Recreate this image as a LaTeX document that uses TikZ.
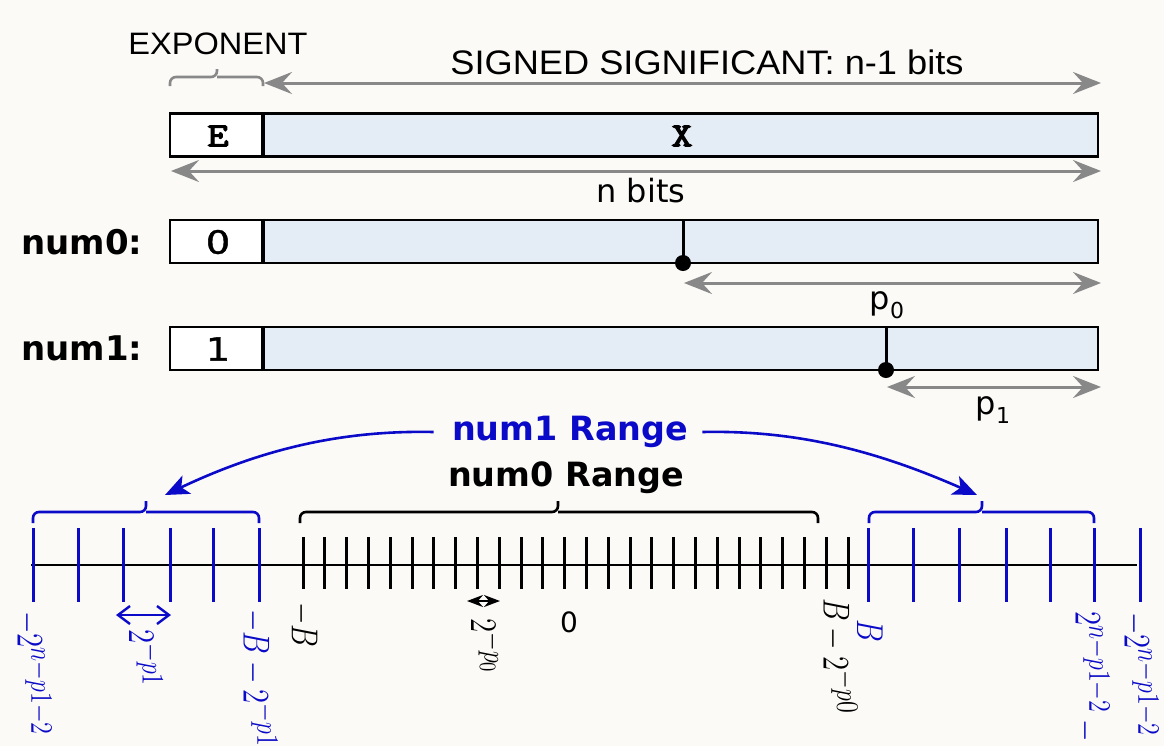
\documentclass[tikz,border=0pt]{standalone}
\usepackage[no-math]{fontspec}
\usepackage{graphicx}
\usetikzlibrary{arrows.meta}
\newfontfamily\djv{DejaVu Sans}
\newfontfamily\djvfb{DejaVu Sans}[FakeBold=1.2]
\newfontfamily\lib{Liberation Sans}
\newfontfamily\ttb{lmmono10-regular.otf}[FakeBold=3]
\definecolor{bg}{RGB}{251,250,247}
\definecolor{cellblue}{RGB}{228,236,245}
\definecolor{arrgray}{RGB}{136,136,136}
\definecolor{rblue}{RGB}{10,10,200}
\DeclareMathSizes{14}{14}{11.5}{9}
\newcommand{\psub}[1]{p\raisebox{-0.28em}{\fontsize{11}{12}\selectfont #1}}
\tikzset{
  garrow/.style={draw=arrgray, line width=1.5pt,
    {Stealth[length=14pt,width=11pt,inset=5pt]}-{Stealth[length=14pt,width=11pt,inset=5pt]}},
  gbrace/.style={draw=arrgray, line width=1.3pt, rounded corners=3pt},
  kbrace/.style={draw=black, line width=1.3pt, rounded corners=3pt},
  bbrace/.style={draw=rblue, line width=1.3pt, rounded corners=3pt},
  ecell/.style={draw, line width=1.25pt, fill=white, minimum width=46pt, minimum height=21.5pt, inner sep=0pt},
  xcell/.style={draw, line width=1.25pt, fill=cellblue, minimum width=418pt, minimum height=21.5pt, inner sep=0pt},
  divider/.style={line width=2.2pt},
  marker/.style={line width=1.5pt},
  barrow/.style={draw=rblue, line width=1.3pt, -{Stealth[length=12pt,width=10pt,inset=3pt]}},
  btick/.style={draw=rblue, line width=1.5pt},
  ktick/.style={draw=black, line width=1.5pt},
  rlab/.style={rotate=-90, anchor=west, inner sep=0pt, font=\fontsize{14}{16}\selectfont},
  monolab/.style={font=\ttb\fontsize{17}{19}\selectfont, inner sep=0pt},
  digitlab/.style={font=\djvfb\fontsize{16}{18}\selectfont, inner sep=0pt},
  rowlab/.style={font=\djv\bfseries\fontsize{17}{20}\selectfont, inner sep=0pt},
  plab/.style={font=\djv\fontsize{16}{18}\selectfont, inner sep=0pt},
  rangelab/.style={font=\djv\bfseries\fontsize{16.7}{20}\selectfont, inner sep=0pt},
}
\begin{document}
\begin{tikzpicture}[x=0.5pt,y=-0.5pt]
\useasboundingbox (0,0) rectangle (1164,746);
\fill[bg] (0,0) rectangle (1164,746);

% ---------- header ----------
\node[font=\lib\fontsize{15.5}{18}\selectfont, inner sep=0pt] (explab) at (218,44) {\scalebox{1.05}[1]{EXPONENT}};
\draw[gbrace] (170,86) |- (217,77) -- (217,69);
\draw[gbrace] (263,86) |- (217,77);
\node[font=\lib\fontsize{17}{20}\selectfont, inner sep=0pt] (siglab) at (707,62) {\scalebox{1.065}[1]{SIGNED SIGNIFICANT: n-1 bits}};
\coordinate (sigL) at (264,83);
\coordinate (sigR) at (1101,83);
\draw[garrow] (sigL) -- (sigR);

% ---------- word box ----------
\node[xcell] (b1x) at (680,135) {};
\node[ecell] (b1e) at (216,135) {};
\node[monolab] (etxt) at (218,136) {\scalebox{1.2}[1]{E}};
\node[monolab] (xtxt) at (682,136) {\scalebox{1.2}[1]{X}};
\draw[divider] (b1e.north east) -- (b1e.south east);
\coordinate (nbL) at (171,171);
\coordinate (nbR) at (1101,171);
\draw[garrow] (nbL) -- (nbR);
\node[plab] (nbits) at (641,191) {n bits};

% ---------- num0 ----------
\node[rowlab] (n0lab) at (82,242) {num0:};
\node[xcell] (b2x) at (680,241.5) {};
\node[ecell] (b2e) at (216,241.5) {};
\node[digitlab] (z0) at (218,242) {\scalebox{1.2}[1]{0}};
\draw[divider] (b2e.north east) -- (b2e.south east);
\coordinate (m0t) at (683,220);
\coordinate (m0b) at (683,263);
\draw[marker] (m0t) -- (m0b);
\fill (m0b) circle (4pt);
\coordinate (p0L) at (684,283);
\coordinate (p0R) at (1101,283);
\draw[garrow] (p0L) -- (p0R);
\node[plab] (p0lab) at (887,305) {\psub{0}};

% ---------- num1 ----------
\node[rowlab] (n1lab) at (82,348.5) {num1:};
\node[xcell] (b3x) at (680,348.5) {};
\node[ecell] (b3e) at (216,348.5) {};
\node[digitlab] (o1) at (218,349) {\scalebox{1.2}[1]{1}};
\draw[divider] (b3e.north east) -- (b3e.south east);
\coordinate (m1t) at (886,327);
\coordinate (m1b) at (886,370);
\draw[marker] (m1t) -- (m1b);
\fill (m1b) circle (4pt);
\coordinate (p1L) at (887,387);
\coordinate (p1R) at (1101,387);
\draw[garrow] (p1L) -- (p1R);
\node[plab] (p1lab) at (993,410) {\psub{1}};

% ---------- ranges ----------
\node[rangelab, text=rblue] (r1) at (570,432) {num1 Range};
\node[rangelab] (r0) at (566,478) {num0 Range};
\coordinate (lbt) at (165,495);
\coordinate (rbt) at (977,495);
\draw[barrow] ([xshift=-9pt]r1.west) .. controls (340,430) and (260,450) .. (lbt);
\draw[barrow] ([xshift=7pt]r1.east) .. controls (795,430) and (875,450) .. (rbt);

\draw[bbrace] (33,523) |- (146,512) -- (146,501);
\draw[bbrace] (259,523) |- (146,512);
\draw[kbrace] (300,523) |- (558,512) -- (558,501);
\draw[kbrace] (818,523) |- (558,512);
\draw[bbrace] (869,523) |- (982,512) -- (982,501);
\draw[bbrace] (1094,523) |- (982,512);

% ---------- axis ----------
\coordinate (axL) at (31,565);
\coordinate (axR) at (1137,565);
\draw[line width=1.25pt] (axL) -- (axR);
\foreach \x in {33,78,123,170,213,259,868,913,959,1006,1050,1094,1140}
  \draw[btick] (\x,528) -- (\x,602);
\foreach \i in {0,...,25}
  \draw[ktick] ({303+\i*21.8},537) -- ({303+\i*21.8},589);

% small spacing arrows
\coordinate (s1L) at (116,615);
\coordinate (s1R) at (171,615);
\draw[draw=rblue, line width=1.2pt, {Straight Barb[length=6pt,width=9pt]}-{Straight Barb[length=6pt,width=9pt]}] (s1L) -- (s1R);
\coordinate (s0L) at (467,601);
\coordinate (s0R) at (500,601);
\draw[line width=1pt, {Stealth[length=8pt,width=6pt]}-{Stealth[length=8pt,width=6pt]}] (s0L) -- (s0R);

% ---------- axis labels ----------
\node[rlab, text=rblue] (l1) at (33,611) {\scalebox{1}[1.3]{$-2^{n-p1-2}$}};
\node[rlab, text=rblue] (l2) at (146,629) {\scalebox{1}[1.3]{$2^{-p1}$}};
\node[rlab, text=rblue] (l3) at (259,609) {\scalebox{1}[1.3]{$-B-2^{-p1}$}};
\node[rlab] (l4) at (303,602) {\scalebox{1}[1.3]{$-B$}};
\node[rlab] (l5) at (487,618) {\scalebox{1}[1.3]{$2^{-p_0}$}};
\node[font=\djv\fontsize{14}{16}\selectfont, inner sep=0pt] (l6) at (569,622) {0};
\node[rlab] (l7) at (839,598) {\scalebox{1}[1.3]{$B-2^{-p0}$}};
\node[rlab, text=rblue] (l8) at (870,619) {\scalebox{1}[1.3]{$B$}};
\node[rlab, text=rblue] (l9) at (1091,611) {\scalebox{1}[1.3]{$2^{n-p1-2}-2^{-p1}$}};
\node[rlab, text=rblue] (l10) at (1140,612) {\scalebox{1}[1.3]{$-2^{n-p1-2}$}};
\end{tikzpicture}
\end{document}
